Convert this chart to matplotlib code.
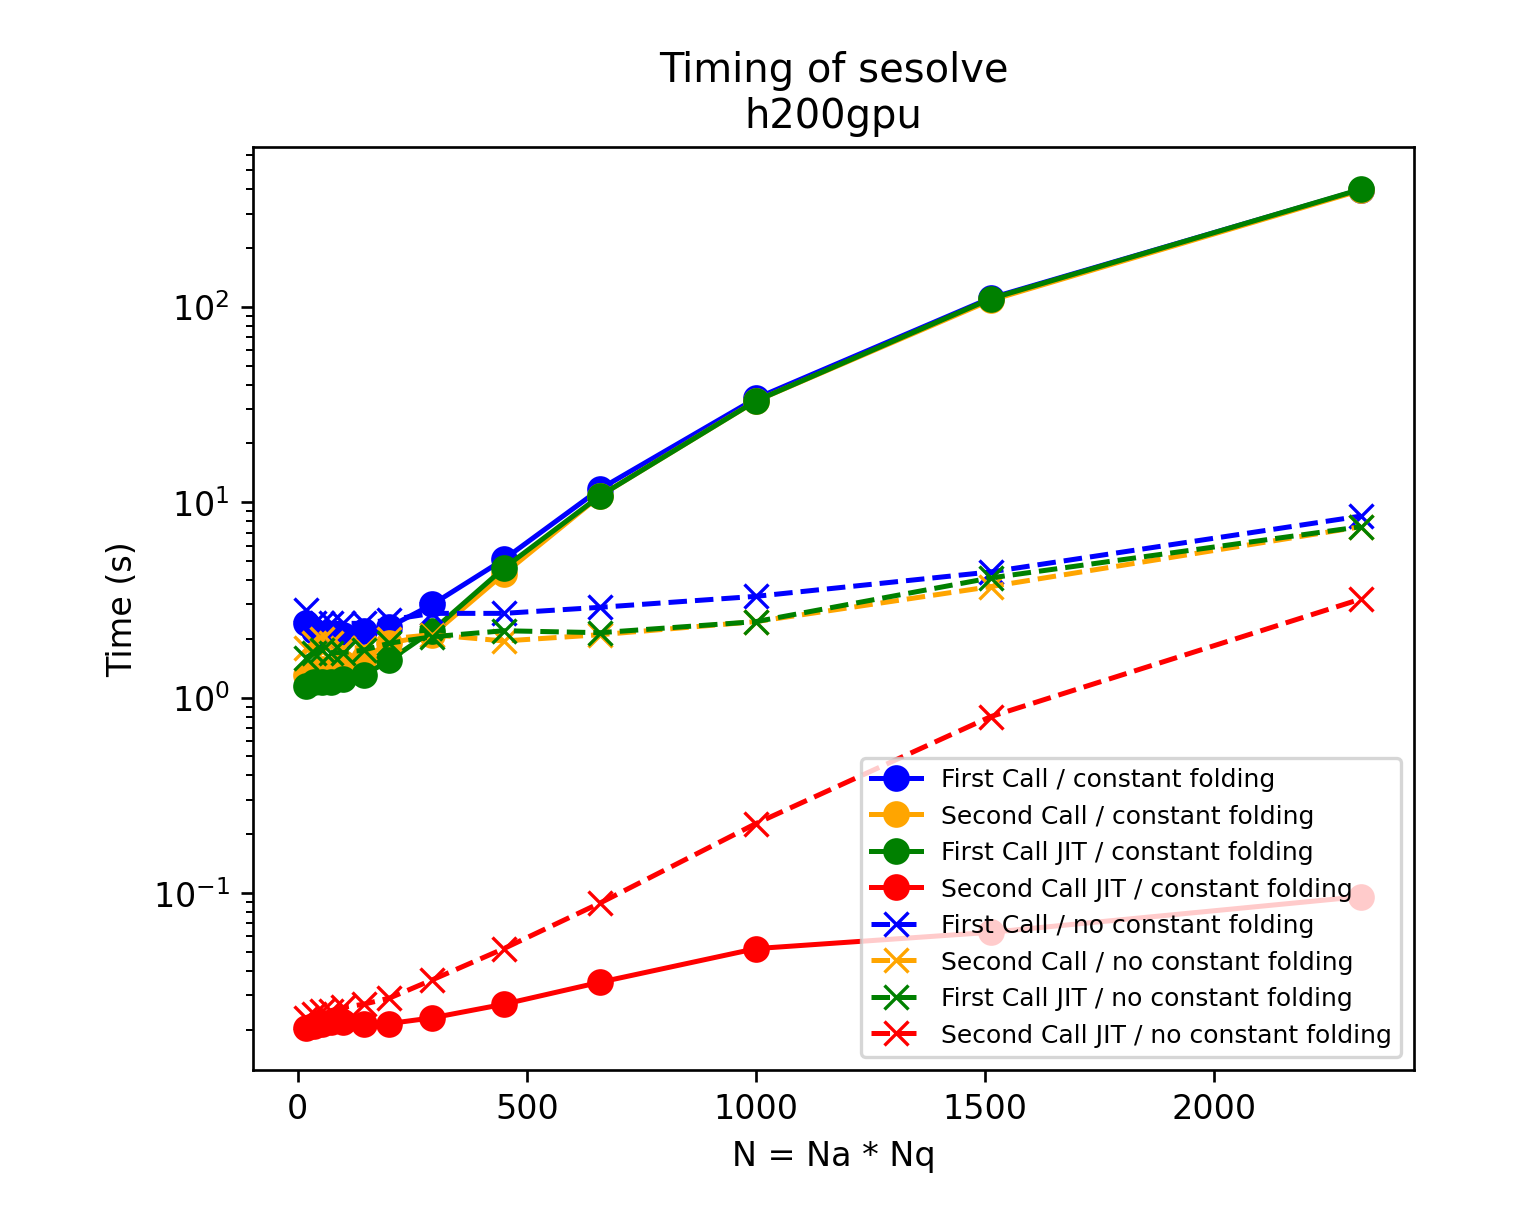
import matplotlib
matplotlib.use("Agg")
import matplotlib.pyplot as plt

N = [18, 36, 54, 72, 100, 144, 200, 294, 450, 660, 1000, 1512, 2320]

first_const = [2.4, 2.2, 2.1, 2.1, 2.1, 2.2, 2.3, 3.0, 5.1, 11.7, 34, 111, 398]
second_const = [1.3, 1.3, 1.4, 1.4, 1.5, 1.6, 1.9, 2.1, 4.3, 10.8, 33, 108, 395]
first_jit_const = [1.15, 1.2, 1.2, 1.2, 1.25, 1.3, 1.55, 2.2, 4.6, 10.8, 33, 110, 400]
second_jit_const = [0.0205, 0.021, 0.0215, 0.022, 0.022, 0.0215, 0.0215, 0.023, 0.027, 0.035, 0.052, 0.063, 0.096]

first_noconst = [2.8, 2.4, 2.4, 2.4, 2.4, 2.4, 2.5, 2.7, 2.7, 2.9, 3.3, 4.4, 8.5]
second_noconst = [1.8, 1.9, 2.0, 1.9, 1.8, 1.8, 2.0, 2.1, 1.95, 2.1, 2.45, 3.7, 7.5]
first_jit_noconst = [1.6, 1.7, 1.75, 1.7, 1.7, 1.75, 1.9, 2.05, 2.2, 2.15, 2.45, 4.1, 7.5]
second_jit_noconst = [0.023, 0.024, 0.025, 0.025, 0.026, 0.027, 0.029, 0.036, 0.052, 0.089, 0.227, 0.80, 3.2]

fig, ax = plt.subplots(figsize=(6.39, 5.09), dpi=240)
fig.subplots_adjust(left=0.165, right=0.922, top=0.879, bottom=0.124)

const = [("First Call", first_const, "blue"),
         ("Second Call", second_const, "orange"),
         ("First Call JIT", first_jit_const, "green"),
         ("Second Call JIT", second_jit_const, "red")]
noconst = [("First Call", first_noconst, "blue"),
           ("Second Call", second_noconst, "orange"),
           ("First Call JIT", first_jit_noconst, "green"),
           ("Second Call JIT", second_jit_noconst, "red")]

for label, y, c in const:
    ax.plot(N, y, "-o", color=c, label=f"{label} / constant folding", markersize=7)
for label, y, c in noconst:
    ax.plot(N, y, "--x", color=c, label=f"{label} / no constant folding", markersize=7)

ax.set_yscale("log")
ax.set_xlabel("N = Na * Nq")
ax.set_ylabel("Time (s)")
ax.set_title("Timing of sesolve\nh200gpu")
ax.legend(loc="lower right", fontsize=7.5)
fig.savefig("out.png", dpi=240)
